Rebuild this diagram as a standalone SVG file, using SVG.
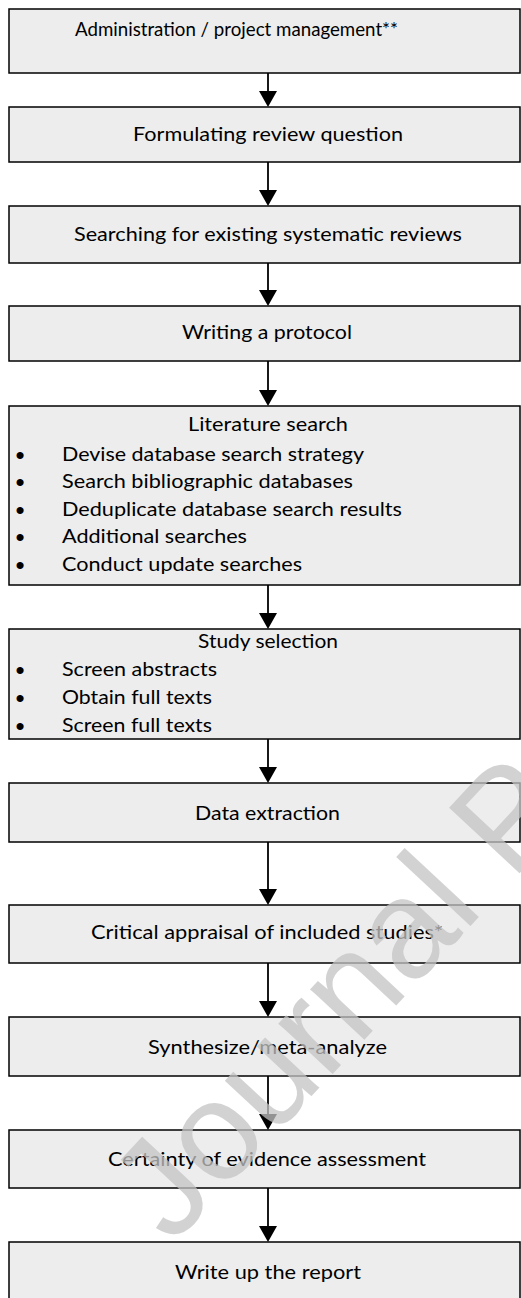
<svg xmlns="http://www.w3.org/2000/svg" width="521" height="1298" viewBox="0 0 521 1298">
<defs>
<style>
.box{fill:#ededed;stroke:#000;stroke-width:1.5}
.t{font-family:Lato,"Open Sans","Liberation Sans",sans-serif;font-size:20px;fill:#000}
.s{font-size:18.5px}
.b{font-family:"Liberation Sans",sans-serif;font-size:26px;fill:#000;text-anchor:middle}
.c{stroke:#000;stroke-width:1.8;fill:none}
.wm{font-family:"Liberation Sans",Arial,sans-serif;font-size:140px;fill:#c4c4c4;opacity:0.75}
</style>
<marker id="ah" markerUnits="userSpaceOnUse" viewBox="0 0 16 18" refX="8" refY="9" markerWidth="16" markerHeight="18" orient="auto">
<path d="M0,0 L16,9 L0,18 z" fill="#000"/>
</marker>
</defs>
<rect width="521" height="1298" fill="#fff"/>
<g id="connectors">
<line class="c" x1="268" y1="73" x2="268" y2="99" marker-end="url(#ah)"/>
<line class="c" x1="268" y1="162" x2="268" y2="198" marker-end="url(#ah)"/>
<line class="c" x1="268" y1="263" x2="268" y2="298" marker-end="url(#ah)"/>
<line class="c" x1="268" y1="361" x2="268" y2="398" marker-end="url(#ah)"/>
<line class="c" x1="268" y1="585" x2="268" y2="621" marker-end="url(#ah)"/>
<line class="c" x1="268" y1="739" x2="268" y2="775" marker-end="url(#ah)"/>
<line class="c" x1="268" y1="842" x2="268" y2="897" marker-end="url(#ah)"/>
<line class="c" x1="268" y1="963" x2="268" y2="1009" marker-end="url(#ah)"/>
<line class="c" x1="268" y1="1076" x2="268" y2="1122" marker-end="url(#ah)"/>
<line class="c" x1="268" y1="1188" x2="268" y2="1234" marker-end="url(#ah)"/>
</g>
<g id="n1"><rect class="box" x="9" y="9" width="511" height="64"/><text class="t s" x="75" y="36" textLength="323" lengthAdjust="spacingAndGlyphs">Administration / project management**</text></g>
<g id="n2"><rect class="box" x="9" y="107" width="511" height="55"/><text class="t" x="133" y="141" textLength="270" lengthAdjust="spacingAndGlyphs">Formulating review question</text></g>
<g id="n3"><rect class="box" x="9" y="206" width="511" height="57"/><text class="t" x="74" y="241" textLength="388" lengthAdjust="spacingAndGlyphs">Searching for existing systematic reviews</text></g>
<g id="n4"><rect class="box" x="9" y="306" width="511" height="55"/><text class="t" x="182" y="339" textLength="170" lengthAdjust="spacingAndGlyphs">Writing a protocol</text></g>
<g id="n5"><rect class="box" x="9" y="406" width="511" height="179"/>
<text class="t" x="188" y="431" textLength="160" lengthAdjust="spacingAndGlyphs">Literature search</text>
<text class="b" x="20" y="464">•</text><text class="t" x="62" y="461" textLength="302" lengthAdjust="spacingAndGlyphs">Devise database search strategy</text>
<text class="b" x="20" y="491">•</text><text class="t" x="62" y="488" textLength="291" lengthAdjust="spacingAndGlyphs">Search bibliographic databases</text>
<text class="b" x="20" y="519">•</text><text class="t" x="62" y="516" textLength="340" lengthAdjust="spacingAndGlyphs">Deduplicate database search results</text>
<text class="b" x="20" y="546">•</text><text class="t" x="62" y="543" textLength="185" lengthAdjust="spacingAndGlyphs">Additional searches</text>
<text class="b" x="20" y="574">•</text><text class="t" x="62" y="571" textLength="240" lengthAdjust="spacingAndGlyphs">Conduct update searches</text>
</g>
<g id="n6"><rect class="box" x="9" y="629" width="511" height="110"/>
<text class="t" x="198" y="648" textLength="140" lengthAdjust="spacingAndGlyphs">Study selection</text>
<text class="b" x="20" y="679">•</text><text class="t" x="62" y="676" textLength="155" lengthAdjust="spacingAndGlyphs">Screen abstracts</text>
<text class="b" x="20" y="707">•</text><text class="t" x="62" y="704" textLength="150" lengthAdjust="spacingAndGlyphs">Obtain full texts</text>
<text class="b" x="20" y="735">•</text><text class="t" x="62" y="732" textLength="150" lengthAdjust="spacingAndGlyphs">Screen full texts</text>
</g>
<g id="n7"><rect class="box" x="9" y="783" width="511" height="59"/><text class="t" x="195" y="820" textLength="145" lengthAdjust="spacingAndGlyphs">Data extraction</text></g>
<g id="n8"><rect class="box" x="9" y="905" width="511" height="58"/><text class="t" x="91" y="939" textLength="352" lengthAdjust="spacingAndGlyphs">Critical appraisal of included studies*</text></g>
<g id="n9"><rect class="box" x="9" y="1017" width="511" height="59"/><text class="t" x="148" y="1054" textLength="239" lengthAdjust="spacingAndGlyphs">Synthesize/meta-analyze</text></g>
<g id="n10"><rect class="box" x="9" y="1130" width="511" height="58"/><text class="t" x="108" y="1166" textLength="318" lengthAdjust="spacingAndGlyphs">Certainty of evidence assessment</text></g>
<g id="n11"><rect class="box" x="9" y="1242" width="511" height="70"/><text class="t" x="175" y="1279" textLength="186" lengthAdjust="spacingAndGlyphs">Write up the report</text></g>
<text class="wm" x="172" y="1246" transform="rotate(-47 172 1246)">Journal Pr</text>
</svg>
